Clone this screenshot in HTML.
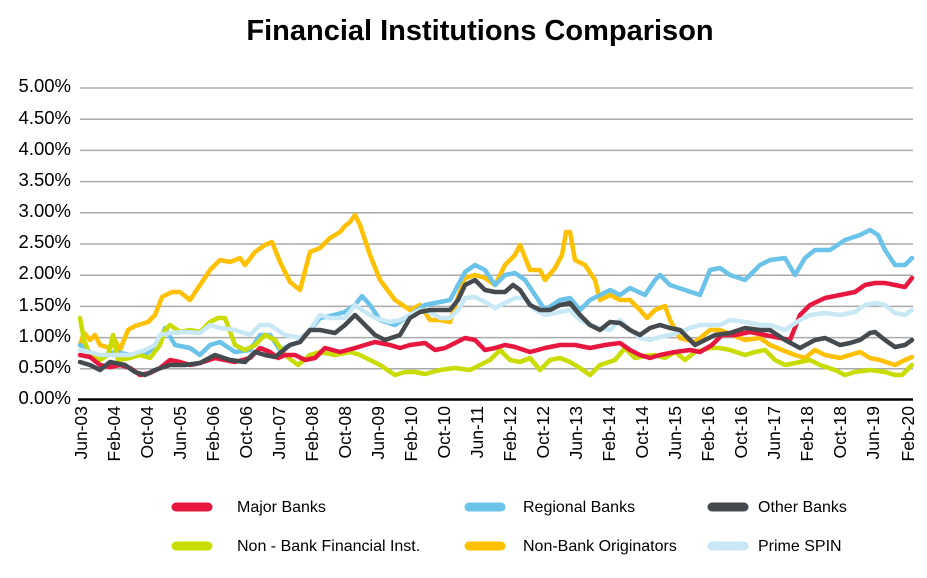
<!DOCTYPE html>
<html><head><meta charset="utf-8"><style>
body{margin:0;background:#fff;width:927px;height:573px;overflow:hidden;font-family:"Liberation Sans",Arial,sans-serif}
</style></head><body>
<svg width="927" height="573" viewBox="0 0 927 573" xmlns="http://www.w3.org/2000/svg" font-family="Liberation Sans, Arial, sans-serif">
<text x="480" y="40" text-anchor="middle" font-size="29" font-weight="bold">Financial Institutions Comparison</text>
<g stroke="#aaa" stroke-width="1.5">
<line x1="80" x2="913" y1="368.8" y2="368.8"/><line x1="80" x2="913" y1="337.6" y2="337.6"/><line x1="80" x2="913" y1="306.4" y2="306.4"/>
<line x1="80" x2="913" y1="275.2" y2="275.2"/><line x1="80" x2="913" y1="244" y2="244"/><line x1="80" x2="913" y1="212.8" y2="212.8"/>
<line x1="80" x2="913" y1="181.6" y2="181.6"/><line x1="80" x2="913" y1="150.4" y2="150.4"/><line x1="80" x2="913" y1="119.2" y2="119.2"/><line x1="80" x2="913" y1="88" y2="88"/>
</g>
<g font-size="18.5" text-anchor="end">
<text x="71" y="404">0.00%</text><text x="71" y="373">0.50%</text><text x="71" y="342">1.00%</text><text x="71" y="311">1.50%</text>
<text x="71" y="279">2.00%</text><text x="71" y="248">2.50%</text><text x="71" y="217">3.00%</text><text x="71" y="186">3.50%</text>
<text x="71" y="155">4.00%</text><text x="71" y="124">4.50%</text><text x="71" y="92">5.00%</text>
</g>
<g fill="none" stroke-width="4.5" stroke-linejoin="round" stroke-linecap="round">
<polyline stroke="#ffc000" points="80,345 84,333 90,340 95,335 100,345 110,348 115,340 120,350 128,330 135,326 148,322 155,315 162,297 172,292 180,292 190,300 200,285 210,270 220,260 230,262 240,258 245,265 255,252 265,245 272,242 280,262 290,282 300,290 310,252 320,248 330,238 340,232 345,226 350,222 355,215 360,225 370,255 380,280 395,300 410,310 420,305 430,320 440,320 450,322 457,300 465,278 475,275 485,278 495,285 505,265 515,255 520,245 530,270 540,270 545,280 555,268 562,255 566,232 570,232 575,260 585,265 595,280 600,300 610,295 620,300 630,300 640,310 647,318 655,310 665,306 670,320 680,338 695,342 710,330 720,330 735,336 745,340 760,338 770,345 782,350 795,355 805,358 815,350 825,355 840,358 850,355 860,352 870,358 880,360 895,365 905,360 912,357"/>
<polyline stroke="#6cc3ea" points="80,345 90,352 100,357 115,352 130,355 145,355 160,342 165,328 175,345 190,348 200,355 210,345 220,342 235,352 250,350 260,335 270,335 280,350 290,345 300,342 310,330 320,318 330,316 345,312 355,305 362,296 370,305 380,320 395,325 410,315 425,305 440,302 450,300 458,285 465,272 475,265 485,270 495,285 505,275 515,273 525,280 535,295 545,310 560,300 570,298 580,310 590,300 600,295 610,290 620,295 630,288 645,295 655,280 660,275 670,285 685,290 700,295 710,270 720,268 730,275 745,280 760,265 770,260 785,258 795,275 805,258 815,250 830,250 845,240 860,235 870,230 878,235 885,250 895,265 905,265 912,258"/>
<polyline stroke="#c8dc00" points="80,318 84,340 90,355 100,360 108,355 113,335 118,360 130,358 140,355 150,358 160,345 165,330 170,325 180,332 190,330 200,332 210,322 218,318 225,318 235,345 245,350 255,345 265,335 275,340 285,355 298,365 310,355 320,352 335,355 350,352 360,355 370,360 380,365 395,375 405,372 415,372 425,374 440,370 455,368 470,370 480,365 490,360 500,350 510,360 520,362 530,358 540,370 550,360 560,358 570,362 580,368 590,375 600,365 615,360 625,348 635,358 645,356 655,355 665,358 675,352 685,360 695,352 710,348 720,348 730,350 745,355 755,352 765,350 775,360 785,365 800,362 810,360 820,365 835,370 845,375 855,372 870,370 885,372 895,375 902,375 912,365"/>
<polyline stroke="#e8173f" points="80,355 90,357 100,365 110,367 120,365 130,368 140,375 150,373 160,368 170,360 180,362 190,365 200,363 215,358 225,360 235,362 250,358 260,348 270,352 278,358 285,355 295,355 305,360 315,358 325,348 340,352 355,348 365,345 375,342 390,345 400,348 410,345 425,343 435,350 445,348 455,343 465,338 475,340 485,350 495,348 505,345 515,347 530,352 545,348 560,345 575,345 590,348 605,345 620,343 630,350 640,355 650,358 660,355 675,352 690,350 700,352 712,345 722,335 735,335 750,332 765,335 775,337 790,340 800,315 810,305 825,298 840,295 855,292 865,285 875,283 885,283 895,285 905,287 912,278"/>
<polyline stroke="#c9e8f5" points="80,350 90,352 100,355 115,355 130,355 145,350 155,345 160,335 170,333 185,332 200,333 210,325 220,328 235,330 250,335 260,325 270,325 285,335 300,338 310,330 320,315 330,318 345,318 355,305 362,310 375,318 390,322 400,320 410,315 420,310 430,312 440,318 450,318 458,310 465,298 475,297 485,302 495,308 505,303 515,298 525,298 535,310 545,315 560,312 570,310 580,320 590,325 600,328 610,330 620,320 630,330 640,338 650,340 660,337 670,335 680,332 690,328 700,325 710,325 720,325 730,320 745,322 760,325 770,325 785,330 800,320 810,315 825,313 840,315 855,312 865,305 875,303 885,305 895,313 905,315 912,310"/>
<polyline stroke="#444a4e" points="80,362 90,365 100,370 110,362 125,365 135,372 145,375 155,370 170,365 185,365 200,363 215,355 230,360 245,362 255,352 265,355 275,357 290,345 300,342 310,330 320,330 335,333 345,325 355,315 365,325 375,335 385,340 400,335 410,318 420,312 430,310 440,310 450,310 458,300 465,285 475,280 485,290 495,292 505,292 513,285 520,290 530,305 540,310 550,310 560,305 570,303 580,315 590,325 600,330 610,322 620,323 630,330 640,335 650,328 660,325 670,328 680,330 695,345 705,340 715,335 730,333 745,328 760,330 770,330 785,340 800,348 815,340 825,338 840,345 850,343 860,340 870,333 875,332 885,340 895,347 905,345 912,340"/>
</g>
<line x1="78" x2="913" y1="399.5" y2="399.5" stroke="#000" stroke-width="2.5"/>
<g font-size="17.5" text-anchor="end">
<text transform="translate(87,406) rotate(-90)">Jun-03</text>
<text transform="translate(120,406) rotate(-90)">Feb-04</text>
<text transform="translate(153,406) rotate(-90)">Oct-04</text>
<text transform="translate(186,406) rotate(-90)">Jun-05</text>
<text transform="translate(219,406) rotate(-90)">Feb-06</text>
<text transform="translate(252,406) rotate(-90)">Oct-06</text>
<text transform="translate(285,406) rotate(-90)">Jun-07</text>
<text transform="translate(318,406) rotate(-90)">Feb-08</text>
<text transform="translate(351,406) rotate(-90)">Oct-08</text>
<text transform="translate(384,406) rotate(-90)">Jun-09</text>
<text transform="translate(417,406) rotate(-90)">Feb-10</text>
<text transform="translate(450,406) rotate(-90)">Oct-10</text>
<text transform="translate(483,406) rotate(-90)">Jun-11</text>
<text transform="translate(516,406) rotate(-90)">Feb-12</text>
<text transform="translate(549,406) rotate(-90)">Oct-12</text>
<text transform="translate(582,406) rotate(-90)">Jun-13</text>
<text transform="translate(615,406) rotate(-90)">Feb-14</text>
<text transform="translate(648,406) rotate(-90)">Oct-14</text>
<text transform="translate(681,406) rotate(-90)">Jun-15</text>
<text transform="translate(714,406) rotate(-90)">Feb-16</text>
<text transform="translate(747,406) rotate(-90)">Oct-16</text>
<text transform="translate(780,406) rotate(-90)">Jun-17</text>
<text transform="translate(813,406) rotate(-90)">Feb-18</text>
<text transform="translate(846,406) rotate(-90)">Oct-18</text>
<text transform="translate(879,406) rotate(-90)">Jun-19</text>
<text transform="translate(914,406) rotate(-90)">Feb-20</text>
</g>
<g stroke-width="9" stroke-linecap="round">
<line x1="176" x2="208" y1="507" y2="507" stroke="#e8173f"/>
<line x1="469" x2="501" y1="507" y2="507" stroke="#6cc3ea"/>
<line x1="712" x2="744" y1="507" y2="507" stroke="#444a4e"/>
<line x1="176" x2="208" y1="546" y2="546" stroke="#c8dc00"/>
<line x1="469" x2="501" y1="546" y2="546" stroke="#ffc000"/>
<line x1="712" x2="744" y1="546" y2="546" stroke="#c9e8f5"/>
</g>
<g font-size="16">
<text x="237" y="512">Major Banks</text>
<text x="523" y="512">Regional Banks</text>
<text x="758" y="512">Other Banks</text>
<text x="237" y="551">Non - Bank Financial Inst.</text>
<text x="523" y="551">Non-Bank Originators</text>
<text x="758" y="551">Prime SPIN</text>
</g>
</svg>
</body></html>
